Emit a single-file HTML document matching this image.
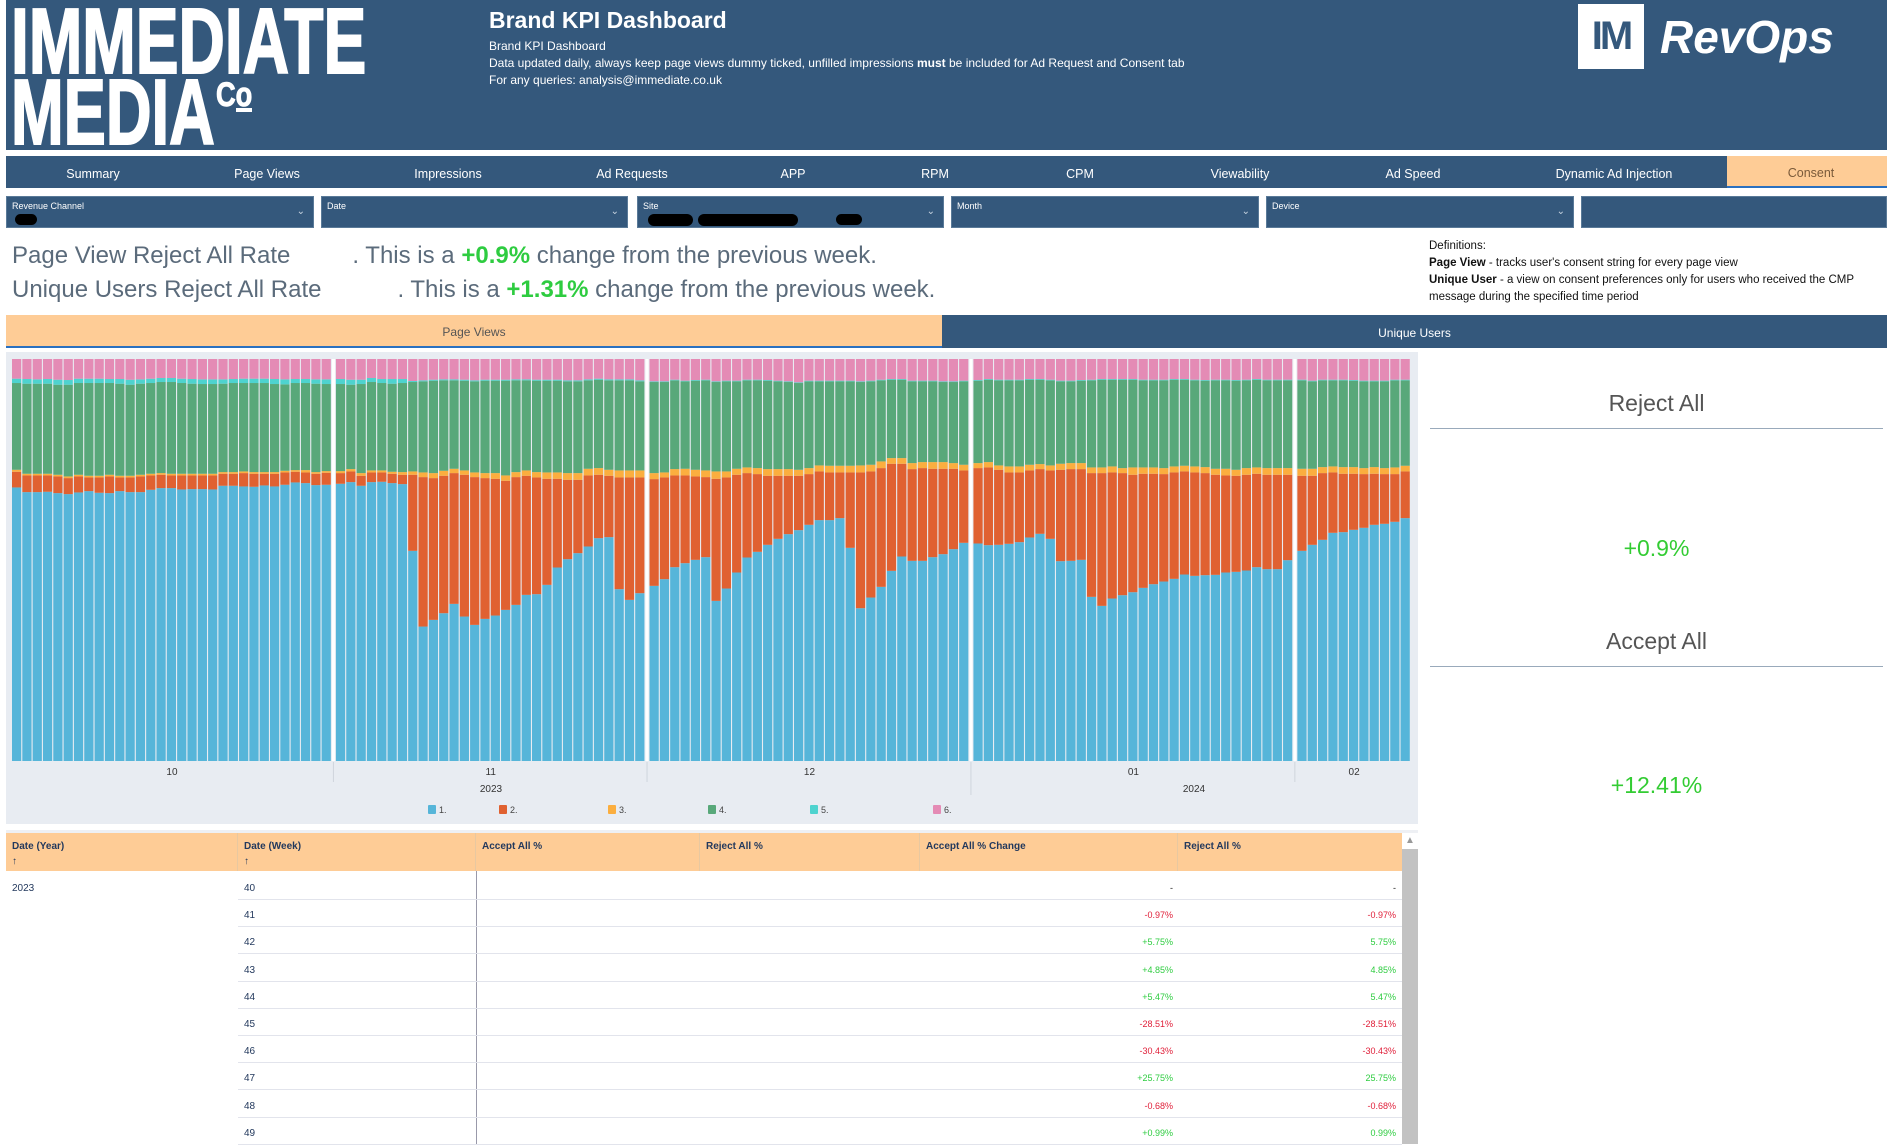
<!DOCTYPE html>
<html><head><meta charset="utf-8">
<style>
*{margin:0;padding:0;box-sizing:border-box}
body{width:1887px;height:1141px;position:relative;background:#fff;font-family:"Liberation Sans",sans-serif;overflow:hidden}
.abs{position:absolute}
.hdr{background:#34587c}
.nav span{position:absolute;top:0;line-height:37px;color:#fff;font-size:12.5px;transform:translateX(-50%)}
.flt{position:absolute;top:196px;height:32px;background:#34587c;border:1px solid #5a7a98;color:#fff}
.flt .lb{position:absolute;left:5px;top:4px;font-size:9px}
.flt .ch{position:absolute;right:8px;top:9px;font-size:10px;color:#c8d4e0}
.big{font-size:24px;color:#5b6b7b}
.g{color:#2ecc40;font-weight:bold}
.sp{display:inline-block}
.logo{position:absolute;color:#fff;font-weight:bold;font-size:93px;line-height:93px;transform-origin:left;white-space:nowrap;-webkit-text-stroke:2px #fff}
.th{position:absolute;top:0;height:38px;font-size:10px;font-weight:bold;color:#23395d;padding:8px 0 0 6px;border-right:1px solid #e8c8a0}
.cell{position:absolute;font-size:10px}
</style></head><body>
<!-- header -->
<div class="abs hdr" style="left:6px;top:0;width:1881px;height:150px"></div>
<div class="logo" style="left:11px;top:-5px;transform:scaleX(0.69)">IMMEDIATE</div>
<div class="logo" style="left:11px;top:66px;transform:scaleX(0.68)">MEDIA</div>
<div class="abs" style="left:216px;top:78px;color:#fff;font-weight:bold;font-size:34px;line-height:34px;transform:scaleX(0.8);transform-origin:left;-webkit-text-stroke:1px #fff">C<span style="display:inline-block;border-bottom:4px solid #fff;line-height:26px">o</span></div>
<div class="abs" style="left:489px;top:7px;color:#fff;font-weight:bold;font-size:23px">Brand KPI Dashboard</div>
<div class="abs" style="left:489px;top:38px;color:#fff;font-size:12px;line-height:17px">Brand KPI Dashboard<br>Data updated daily, always keep page views dummy ticked, unfilled impressions <b>must</b> be included for Ad Request and Consent tab<br>For any queries: analysis@immediate.co.uk</div>
<div class="abs" style="left:1578px;top:4px;width:66px;height:65px;background:#fff;color:#34587c;font-weight:bold;font-size:40px;line-height:65px;text-align:center;letter-spacing:-3px">IM</div>
<div class="abs" style="left:1660px;top:10px;color:#fff;font-weight:bold;font-style:italic;font-size:46px">RevOps</div>
<!-- nav -->
<div class="abs hdr nav" style="left:6px;top:156px;width:1881px;height:32px">
<div class="abs" style="left:1721px;top:0;width:160px;height:32px;background:#fecc96;border-bottom:2px solid #2a70c0"></div>
<span style="left:87px">Summary</span>
<span style="left:261px">Page Views</span>
<span style="left:442px">Impressions</span>
<span style="left:626px">Ad Requests</span>
<span style="left:787px">APP</span>
<span style="left:929px">RPM</span>
<span style="left:1074px">CPM</span>
<span style="left:1234px">Viewability</span>
<span style="left:1407px">Ad Speed</span>
<span style="left:1608px">Dynamic Ad Injection</span>
<span style="left:1805px;color:#7a5a3a;line-height:35px">Consent</span>
</div>
<!-- filters -->
<div class="flt" style="left:6px;width:308px"><span class="lb">Revenue Channel</span><span class="ch">⌄</span><div class="abs" style="left:8px;top:17px;width:22px;height:11px;border-radius:6px;background:#000"></div></div>
<div class="flt" style="left:321px;width:307px"><span class="lb">Date</span><span class="ch">⌄</span></div>
<div class="flt" style="left:637px;width:307px"><span class="lb">Site</span><span class="ch">⌄</span><div class="abs" style="left:10px;top:17px;width:45px;height:12px;border-radius:6px;background:#000"></div><div class="abs" style="left:60px;top:17px;width:100px;height:12px;border-radius:6px;background:#000"></div><div class="abs" style="left:198px;top:17px;width:26px;height:11px;border-radius:6px;background:#000"></div></div>
<div class="flt" style="left:951px;width:308px"><span class="lb">Month</span><span class="ch">⌄</span></div>
<div class="flt" style="left:1266px;width:308px"><span class="lb">Device</span><span class="ch">⌄</span></div>
<div class="flt" style="left:1581px;width:306px"></div>
<!-- summary text -->
<div class="abs big" style="left:12px;top:242px;white-space:nowrap">Page View Reject All Rate<span class="sp" style="width:62px"></span>. This is a <span class="g">+0.9%</span> change from the previous week.</div>
<div class="abs big" style="left:12px;top:276px;white-space:nowrap">Unique Users Reject All Rate<span class="sp" style="width:76px"></span>. This is a <span class="g">+1.31%</span> change from the previous week.</div>
<div class="abs" style="left:1429px;top:238px;font-size:11.5px;line-height:17px;color:#111">Definitions:<br><b>Page View</b> - tracks user's consent string for every page view<br><b>Unique User</b> - a view on consent preferences only for users who received the CMP<br>message during the specified time period</div>
<!-- tabs -->
<div class="abs" style="left:6px;top:315px;width:936px;height:33px;background:#fecc96;border-bottom:2px solid #2a70c0;text-align:center;line-height:35px;font-size:12px;color:#555">Page Views</div>
<div class="abs hdr" style="left:942px;top:315px;width:945px;height:33px;text-align:center;line-height:36px;font-size:12px;color:#fff">Unique Users</div>
<!-- chart -->
<svg class="abs" id="chart" style="left:0;top:0" width="1887" height="1141"></svg>
<!-- right panel -->
<div class="abs" style="left:1430px;top:390px;width:453px;text-align:center;font-size:23px;color:#555">Reject All</div>
<div class="abs" style="left:1430px;top:428px;width:453px;height:1px;background:#9ab"></div>
<div class="abs" style="left:1430px;top:535px;width:453px;text-align:center;font-size:23px;color:#3c3">+0.9%</div>
<div class="abs" style="left:1430px;top:628px;width:453px;text-align:center;font-size:23px;color:#555">Accept All</div>
<div class="abs" style="left:1430px;top:666px;width:453px;height:1px;background:#9ab"></div>
<div class="abs" style="left:1430px;top:772px;width:453px;text-align:center;font-size:23px;color:#3c3">+12.41%</div>
<!-- table -->
<div class="abs" id="tbl" style="left:6px;top:830px;width:1412px;height:311px;background:#fff;border-top:3px solid #eef0f4">
<div class="abs" style="left:0;top:0;width:1396px;height:38px;background:#fecc96"></div>
<div class="th" style="left:0;width:232px">Date (Year)<br><span style="position:relative;top:4px">↑</span></div>
<div class="th" style="left:232px;width:238px">Date (Week)<br><span style="position:relative;top:4px">↑</span></div>
<div class="th" style="left:470px;width:224px">Accept All %</div>
<div class="th" style="left:694px;width:220px">Reject All %</div>
<div class="th" style="left:914px;width:258px">Accept All % Change</div>
<div class="th" style="left:1172px;width:224px;border:none">Reject All %</div>
<div class="abs" style="left:1396px;top:16px;width:16px;height:295px;background:#c2c2c2"></div>
<div class="abs" style="left:1399px;top:2px;font-size:10px;color:#999">▲</div>
<div class="abs" style="left:470px;top:38px;width:1px;height:273px;background:#99a"></div>
<div class="cell" style="left:6px;top:50px;color:#23395d">2023</div>
</div>
<script>
const monthLabels=['10','11','12','01','02'];
const monthDays=[31,30,31,31,11];
const seriesNames=['1.','2.','3.','4.','5.','6.'];
const seriesColors=['#56b5d9','#e06131','#fbae3f','#58a87a','#4ed3cf','#e48bb5'];
const s1=[820,806,806,807,803,800,805,809,804,803,809,806,806,813,818,818,814,815,815,814,825,825,823,822,826,823,828,835,833,827,828,
831,836,825,836,837,833,830,630,403,423,443,471,433,408,426,436,453,468,498,500,528,580,605,623,643,668,671,515,483,503,
525,545,581,593,603,611,480,517,565,610,627,648,666,680,692,708,722,722,728,639,458,490,522,570,613,600,600,611,620,635,654,
652,647,648,651,656,670,681,666,599,600,603,492,465,487,497,506,519,530,538,546,559,555,557,558,565,567,571,581,575,575,602,
630,648,663,684,686,693,699,708,711,717,728];
const s2=[47,50,50,49,50,48,48,41,46,50,41,44,47,43,40,38,42,41,41,42,36,36,40,39,35,38,37,32,32,34,36,
32,32,30,29,28,28,28,228,448,425,412,392,425,443,422,410,387,383,357,350,318,266,238,220,213,190,184,335,367,347,
320,305,275,263,250,240,366,333,293,253,233,207,189,175,163,152,146,143,137,226,407,378,356,321,278,275,278,265,256,241,217,
226,233,225,214,209,201,194,205,274,275,272,371,398,378,366,352,342,331,322,319,309,310,306,300,291,288,287,280,283,283,256,
225,207,200,181,175,168,161,153,149,143,140];
const s3=[6,5,5,5,5,5,5,5,5,5,5,5,5,5,5,5,5,5,5,5,5,5,5,5,5,5,5,5,7,5,5,
6,7,8,6,6,6,8,10,14,15,15,13,13,14,15,17,16,15,16,16,19,19,20,20,20,20,18,21,21,21,
18,15,19,20,20,20,22,18,18,17,18,20,20,20,18,18,18,20,20,20,21,20,20,17,17,18,18,20,20,17,17,
15,16,13,18,18,17,15,15,18,18,18,17,17,18,15,22,19,19,18,18,17,18,18,18,20,18,20,19,20,20,20,
21,21,18,18,20,20,18,20,18,20,17];
const s4=[260,270,270,270,270,275,275,278,278,275,276,273,273,272,273,275,272,270,269,269,265,267,265,267,267,264,259,261,261,265,261,
261,253,267,265,262,264,267,268,273,277,271,265,269,273,277,277,284,275,270,274,275,275,275,275,265,265,268,270,270,267,
273,271,266,262,267,270,268,270,262,261,263,265,263,261,260,260,252,253,253,253,250,250,243,235,235,245,242,242,240,243,250,
247,247,255,258,258,255,253,255,247,245,247,261,263,260,265,263,261,261,263,260,258,258,259,265,265,267,263,263,263,263,263,
265,262,260,258,260,259,260,257,260,261,256];
const s5=[13,14,13,14,15,14,13,13,13,12, 14,15,13,13,12,12,13,14,14,14, 13,12,13,13,13,15,15,12,12,13, 14,
15,15,13,12,12,14,12,3,3,3, 3,3,3,3,3,3,3,3,3,3, 3,3,3,3,3,3,3,3,3,3,
2,2,2,2,2,2,2,2,2,2, 2,2,2,2,2,2,2,2,2,2, 2,2,2,2,2,2,2,2,2,2, 2,
2,2,2,2,2,2,2,2,2,2, 2,2,2,2,2,2,2,2,2,2, 2,2,2,2,2,2,2,2,2,2, 2,
2,2,2,2,2,2,2,2,2,2, 2];
const s6=[59,60,61,60,62,63,59,59,59,60,60,62,61,59,57,57,59,60,61,61,61,60,59,59,59,60,61,60,60,61,61,
60,62,62,57,60,60,60,66,64,62,61,61,62,64,62,62,62,61,61,62,62,62,64,64,61,59,61,61,61,64,
67,67,62,65,63,62,67,65,65,62,62,63,65,67,70,65,65,65,65,65,67,65,62,60,60,65,65,65,67,67,65,
63,60,62,62,62,60,60,62,65,65,63,62,60,60,60,60,62,62,62,60,60,62,63,62,62,63,62,60,62,62,62,
62,65,62,62,62,63,65,65,65,62,62];
const weeks=['40','41','42','43','44','45','46','47','48','49'];
const acceptChange=['-','-0.97%','+5.75%','+4.85%','+5.47%','-28.51%','-30.43%','+25.75%','-0.68%','+0.99%'];
const rejectChange=['-','-0.97%','5.75%','4.85%','5.47%','-28.51%','-30.43%','25.75%','-0.68%','0.99%'];

const NS='http://www.w3.org/2000/svg';
const svg=document.getElementById('chart');
function mk(t,a){const e=document.createElementNS(NS,t);for(const k in a)e.setAttribute(k,a[k]);svg.appendChild(e);return e;}
const P={x0:12,slot:10.32,gap:4,top:359,h:402};
const bg=mk('rect',{x:6,y:352,width:1412,height:472,fill:'#e8ecf2'});


const monthOf=[];const startIdx=[];let c=0;
monthDays.forEach((d,m)=>{startIdx.push(c);for(let i=0;i<d;i++)monthOf.push(m);c+=d;});
function xPos(i){return P.x0+i*P.slot+monthOf[i]*P.gap;}
function yPos(frac){return P.top+P.h*(1-frac);}
const series=[s1,s2,s3,s4,s5,s6];
const nBars=monthOf.length;
for(let i=0;i<nBars;i++){
  let tot=0;series.forEach(s=>tot+=(s[i]||0));
  if(!tot)continue;
  let acc=0;
  series.forEach((s,k)=>{
    const v=s[i]||0;
    const y1=yPos(acc/tot),y2=yPos((acc+v)/tot);acc+=v;
    const r=mk('rect',{x:xPos(i),y:y2,width:P.slot-1.1,height:Math.max(0,y1-y2),fill:seriesColors[k]});
    
    
  });
}
// month separators & labels
monthDays.forEach((d,m)=>{
  const xs=xPos(startIdx[m]),xe=xPos(startIdx[m]+d-1)+P.slot;
  const t=mk('text',{x:(xs+xe)/2,y:775,'font-size':10,fill:'#333','text-anchor':'middle','font-family':'Liberation Sans, sans-serif'});
  t.textContent=monthLabels[m];
  
  
  if(m>0){const l=mk('line',{x1:xs-2.5,x2:xs-2.5,y1:359,y2:761,stroke:'#fff','stroke-width':3});
    
    
    const l2=mk('line',{x1:xs-2.5,x2:xs-2.5,y1:762,y2:m===3?795:782,stroke:'#cfd5dd','stroke-width':1});
    
    }
});
const years=[['2023',491],['2024',1194]];
years.forEach(y=>{const t=mk('text',{x:y[1],y:792,'font-size':10,fill:'#333','text-anchor':'middle','font-family':'Liberation Sans, sans-serif'});t.textContent=y[0];

});
const legX=[428,499,608,708,810,933];
seriesNames.forEach((n,k)=>{
  const r=mk('rect',{x:legX[k],y:805,width:8,height:9,rx:1,fill:seriesColors[k]});
  
  
  const t=mk('text',{x:legX[k]+11,y:813,'font-size':9,fill:'#444','font-family':'Liberation Sans, sans-serif'});t.textContent=n;
  
  
});
// table rows
const tbl=document.getElementById('tbl');
weeks.forEach((w,i)=>{
  const top=41+i*27.2;
  const line=document.createElement('div');line.className='abs';
  line.style.cssText=`left:232px;top:${top+25}px;width:1164px;height:1px;background:#e2e4ec`;
  
  
  tbl.appendChild(line);
  const wc=document.createElement('div');wc.className='cell';wc.textContent=w;
  wc.style.cssText=`left:238px;top:${top+9}px;color:#23395d`;
  
  
  tbl.appendChild(wc);
  [[acceptChange[i],1167],[rejectChange[i],1390]].forEach(([v,r])=>{
    const d=document.createElement('div');d.className='cell';d.textContent=v;
    const col=v==='-'?'#222':(v.startsWith('-')?'#e0203a':'#2ecc40');
    d.style.cssText=`right:${1412-r}px;top:${top+9}px;color:${col};font-size:9px`;
    
    
    tbl.appendChild(d);
  });
});
</script>
</body></html>
